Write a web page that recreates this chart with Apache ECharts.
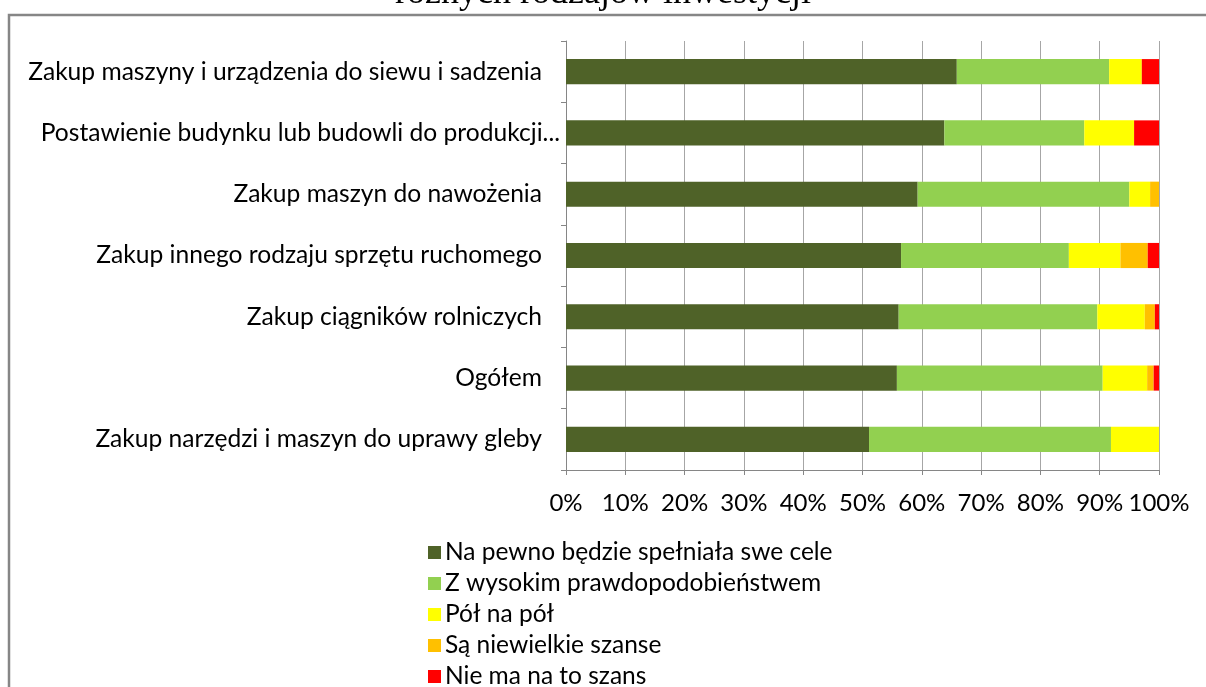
<!DOCTYPE html>
<html>
<head>
<meta charset="utf-8">
<script src="https://cdn.jsdelivr.net/npm/echarts@6/dist/echarts.min.js"></script>
<style>
  html, body { margin: 0; padding: 0; background: #fff; }
  #chart { width: 1206px; height: 687px; }
</style>
</head>
<body>
<div id="chart"></div>
<script>
// kategorie (od góry do dołu)
const categories = [
  'Zakup maszyny i urządzenia do siewu i sadzenia',
  'Postawienie budynku lub budowli do produkcji...',
  'Zakup maszyn do nawożenia',
  'Zakup innego rodzaju sprzętu ruchomego',
  'Zakup ciągników rolniczych',
  'Ogółem',
  'Zakup narzędzi i maszyn do uprawy gleby'
];
const seriesNames = [
  'Na pewno będzie spełniała swe cele',
  'Z wysokim prawdopodobieństwem',
  'Pół na pół',
  'Są niewielkie szanse',
  'Nie ma na to szans'
];
const naPewno = [65.9, 63.8, 59.3, 56.5, 56.1, 55.8, 51.1];
const wysokie = [25.7, 23.6, 35.7, 28.3, 33.5, 34.7, 40.8];
const polNaPol = [5.5, 8.4, 3.5, 8.7, 8.0, 7.5, 8.1];
const niewielkie = [0, 0, 1.5, 4.6, 1.7, 1.1, 0];
const brakSzans = [2.9, 4.2, 0, 1.9, 0.7, 0.9, 0];
const colors = ['#4f6228', '#92d050', '#ffff00', '#ffc000', '#ff0000'];

const font = 'Lato, "Open Sans", sans-serif';
const allValues = [naPewno, wysokie, polNaPol, niewielkie, brakSzans];

var myChart = echarts.init(document.getElementById('chart'));
myChart.setOption({
  animation: false,
  textStyle: { fontFamily: font },
  graphic: [
    {
      type: 'rect',
      shape: { x: 9, y: 15, width: 1220, height: 700 },
      style: { fill: 'none', stroke: '#868686', lineWidth: 2.5 },
      silent: true
    },
    {
      type: 'text',
      left: 'center',
      top: -24,
      style: {
        text: 'różnych rodzajów inwestycji',
        font: '36px "Liberation Serif", "Times New Roman", serif',
        fill: '#000'
      }
    }
  ],
  grid: { left: 566, right: 47, top: 41, bottom: 217, containLabel: false },
  legend: {
    orient: 'vertical',
    left: 428,
    top: 540,
    height: 300,
    padding: 0,
    itemWidth: 13,
    itemHeight: 13,
    itemGap: 6,
    icon: 'rect',
    textStyle: { fontSize: 24.5, color: '#000', lineHeight: 24, height: 24, padding: [0, 0, 0, -1] },
    data: seriesNames
  },
  xAxis: {
    type: 'value',
    min: 0,
    max: 100,
    interval: 10,
    axisLine: { show: true, lineStyle: { color: '#868686', width: 1 } },
    axisTick: { show: true, length: 5, lineStyle: { color: '#868686' } },
    splitLine: { show: true, lineStyle: { color: '#a6a6a6', width: 1 } },
    axisLabel: { formatter: '{value}%', fontSize: 24, color: '#000', margin: 21 }
  },
  yAxis: {
    type: 'category',
    inverse: true,
    data: categories,
    axisLine: { show: true, lineStyle: { color: '#868686', width: 1 } },
    axisTick: { show: true, length: 5, lineStyle: { color: '#868686' } },
    axisLabel: {
      fontSize: 24.6,
      color: '#000',
      margin: 24,
      formatter: (val, idx) => idx === 1 ? '{s|' + val + '}' : val,
      rich: { s: { fontSize: 24.6, color: '#000', padding: [0, -18, 0, 0] } }
    }
  },
  series: seriesNames.map((name, i) => ({
    name: name,
    type: 'bar',
    stack: 'total',
    barWidth: '41%',
    itemStyle: { color: colors[i] },
    data: allValues[i]
  }))
});
</script>
</body>
</html>
